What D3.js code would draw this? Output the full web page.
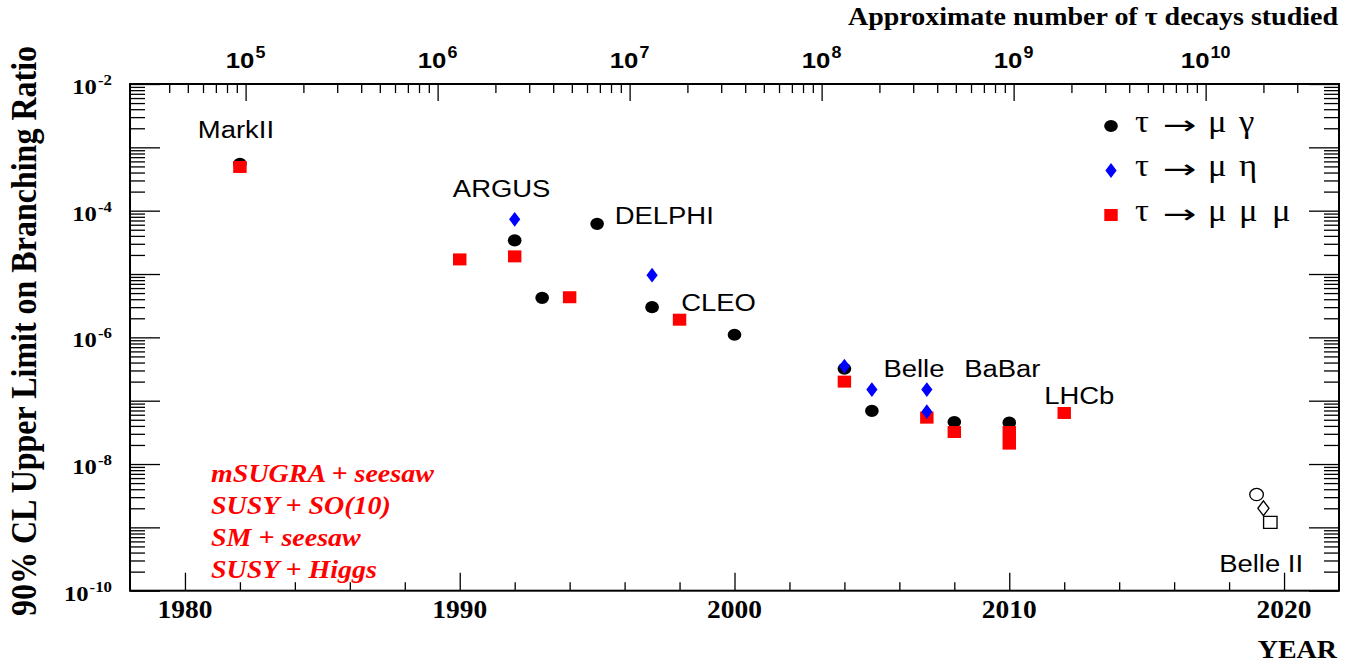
<!DOCTYPE html>
<html>
<head>
<meta charset="utf-8">
<script src="https://cdn.jsdelivr.net/npm/d3@7"></script>
<style>
  body { margin: 0; background: #fff; }
  svg { display: block; }
</style>
</head>
<body>
<div id="chart"></div>
<script>
// ---- data ----
const gammaYears  = [1982, 1992, 1993, 1995, 1997, 2000, 2004, 2005, 2008, 2010];
const gammaLimits = [5.5e-4, 3.4e-5, 4.2e-6, 6.2e-5, 3.0e-6, 1.1e-6, 3.2e-7, 6.9e-8, 4.6e-8, 4.5e-8];

const etaYears  = [1992, 1997, 2004, 2005, 2007, 2007];
const etaLimits = [7.3e-5, 9.6e-6, 3.5e-7, 1.5e-7, 1.5e-7, 6.7e-8];

const muYears  = [1982, 1990, 1992, 1994, 1998, 2004, 2007, 2008, 2010, 2010, 2012];
const muLimits = [4.9e-4, 1.7e-5, 1.9e-5, 4.3e-6, 1.9e-6, 2.0e-7, 5.4e-8, 3.2e-8, 3.2e-8, 2.1e-8, 6.4e-8];

// Belle II projections (open markers)
const belle2Years  = [2019, 2019.25, 2019.5];
const belle2Limits = [3.3e-9, 2.0e-9, 1.2e-9];
const belle2Shapes = ["circle", "diamond", "square"];

const experiments      = ["MarkII", "ARGUS", "DELPHI", "CLEO", "Belle", "BaBar", "LHCb", "Belle II"];
const experimentYears  = [1980.47, 1989.75, 1995.64, 1998.06, 2005.42, 2008.36, 2011.27, 2017.64];
const experimentLimits = [1.4e-3, 1.66e-4, 6.1e-5, 2.63e-6, 2.34e-7, 2.34e-7, 8.75e-8, 2.0e-10];

const models = ["mSUGRA + seesaw", "SUSY + SO(10)", "SM + seesaw", "SUSY + Higgs"];

const legendShapes = ["circle", "diamond", "square"];
const legendLabels = [["τ", "→", "μ", "γ"], ["τ", "→", "μ", "η"], ["τ", "→", "μ", "μ", "μ"]];

const yearTicks    = [1980, 1990, 2000, 2010, 2020];
const yLabelExps   = [-2, -4, -6, -8, -10];
const decayExps    = [5, 6, 7, 8, 9, 10];

// ---- layout ----
const W = 1345, H = 670;
const frame = { left: 130, right: 1339, top: 84, bottom: 590.7 };
const SX = 1.12;   // the picture is slightly stretched horizontally
const serif = "'Liberation Serif', 'Times New Roman', serif";
const sans = "'Liberation Sans', Arial, sans-serif";
const RED = "#ff0000", BLUE = "#0000ff";

const svg = d3.select("#chart")
  .append("svg")
  .attr("width", W)
  .attr("height", H);

const x = d3.scaleLinear().domain([1978, 2022]).range([frame.left, frame.right]);
const y = d3.scaleLog().domain([1e-10, 1e-2]).range([frame.bottom, frame.top]);
const xTop = d3.scaleLog().domain([2.5e4, 4.95e10]).range([frame.left, frame.right]);

const isDecade = v => Math.abs(Math.log10(v) - Math.round(Math.log10(v))) < 1e-6;

function drawTicks(axis, transform) {
  const g = svg.append("g").attr("transform", transform).call(axis);
  g.select(".domain").remove();
  g.selectAll(".tick line").attr("stroke", "#000").attr("stroke-width", 1.3);
  g.selectAll(".tick text").remove();
  return g;
}

// y ticks left + right
const yAll = y.ticks();
const yMajor = yAll.filter(isDecade);
const yMinor = yAll.filter(v => !isDecade(v));
drawTicks(d3.axisLeft(y).tickValues(yMajor).tickSize(-30), `translate(${frame.left},0)`);
drawTicks(d3.axisLeft(y).tickValues(yMinor).tickSize(-15), `translate(${frame.left},0)`);
drawTicks(d3.axisRight(y).tickValues(yMajor).tickSize(-30), `translate(${frame.right},0)`);
drawTicks(d3.axisRight(y).tickValues(yMinor).tickSize(-15), `translate(${frame.right},0)`);

// year ticks bottom
const yearMinor = d3.range(1982, 2022, 2).filter(v => v % 10 !== 0);
drawTicks(d3.axisBottom(x).tickValues(yearTicks).tickSize(-18), `translate(0,${frame.bottom})`);
drawTicks(d3.axisBottom(x).tickValues(yearMinor).tickSize(-8.5), `translate(0,${frame.bottom})`);

// number of tau decays, top
const topAll = xTop.ticks().filter(v => v >= 3.99e4 && v <= 3.01e10);
drawTicks(d3.axisTop(xTop).tickValues(topAll.filter(isDecade)).tickSize(-17), `translate(0,${frame.top})`);
drawTicks(d3.axisTop(xTop).tickValues(topAll.filter(v => !isDecade(v))).tickSize(-9), `translate(0,${frame.top})`);

// frame
svg.append("rect")
  .attr("x", frame.left).attr("y", frame.top)
  .attr("width", frame.right - frame.left)
  .attr("height", frame.bottom - frame.top)
  .attr("fill", "none").attr("stroke", "#000").attr("stroke-width", 2);

// text helper, text stretched like the picture
function stext(px, py, size, family, anchor, sx) {
  return svg.append("text")
    .attr("transform", `translate(${px},${py}) scale(${sx || SX},1)`)
    .attr("font-family", family)
    .attr("font-size", size)
    .attr("text-anchor", anchor || "start");
}

// tick labels
yearTicks.forEach(yr => {
  stext(x(yr), frame.bottom + 27.6, 24.5, serif, "middle")
    .attr("font-weight", "bold").text(yr);
});

yLabelExps.forEach(e => {
  const t = stext(112, y(Math.pow(10, e)) + 10, 22, serif, "end").attr("font-weight", "bold");
  t.append("tspan").text("10");
  t.append("tspan").attr("dy", -9).attr("dx", 1).attr("font-size", 15).text(e);
});

decayExps.forEach(e => {
  const t = stext(xTop(Math.pow(10, e)), 68.3, 23, sans, "middle").attr("font-weight", "bold");
  t.append("tspan").text("10");
  t.append("tspan").attr("dy", -10).attr("dx", 1).attr("font-size", 16).text(e);
});

// axis titles
stext(1338, 25, 25, serif, "end").attr("font-weight", "bold")
  .text("Approximate number of τ decays studied");
stext(1337, 658, 25, serif, "end").attr("font-weight", "bold").text("YEAR");
svg.append("text")
  .attr("transform", `translate(36,331) scale(${SX},1) rotate(-90)`)
  .attr("font-family", serif).attr("font-size", 32).attr("font-weight", "bold")
  .attr("text-anchor", "middle")
  .text("90% CL Upper Limit on Branching Ratio");

// markers
const shapePath = {
  circle: "M-6.1,0A6.1,6.1 0 1,0 6.1,0A6.1,6.1 0 1,0 -6.1,0Z",
  square: "M-6,-6H6V6H-6Z",
  diamond: "M0,-7.4L5,0L0,7.4L-5,0Z"
};

function drawSeries(years, limits, shape, fill) {
  svg.append("g")
    .selectAll("path")
    .data(years.map((yr, i) => ({ yr, v: limits[i] })))
    .join("path")
    .attr("d", shapePath[shape])
    .attr("transform", d => `translate(${x(d.yr)},${y(d.v)}) scale(${SX},1)`)
    .attr("fill", fill);
}

drawSeries(gammaYears, gammaLimits, "circle", "#000");
drawSeries(muYears, muLimits, "square", RED);
drawSeries(etaYears, etaLimits, "diamond", BLUE);

// Belle II open markers
svg.append("g")
  .selectAll("path")
  .data(belle2Years.map((yr, i) => ({ yr, v: belle2Limits[i], s: belle2Shapes[i] })))
  .join("path")
  .attr("d", d => shapePath[d.s])
  .attr("transform", d => `translate(${x(d.yr)},${y(d.v)}) scale(${SX},1)`)
  .attr("fill", "none").attr("stroke", "#000").attr("stroke-width", 1.2);

// experiment names
experiments.forEach((name, i) => {
  stext(x(experimentYears[i]), y(experimentLimits[i]), 24.5, sans, "start")
    .attr("fill", "#000").text(name);
});

// theory models
models.forEach((m, i) => {
  stext(x(1980.95), y(5.25e-9) + i * 32.2, 25, serif, "start")
    .attr("font-weight", "bold").attr("font-style", "italic")
    .attr("fill", RED).text(m);
});

// legend
const legendFill = ["#000", BLUE, RED];
const tokenOffsets = [0, 28, 73, 104, 137];
legendShapes.forEach((s, i) => {
  const ly = 126 + i * 44.5;
  svg.append("path")
    .attr("d", shapePath[s])
    .attr("transform", `translate(1111,${ly}) scale(${SX},1)`)
    .attr("fill", legendFill[i]);
  legendLabels[i].forEach((tok, j) => {
    if (tok === "→") {
      stext(1135 + tokenOffsets[j], ly + 7.5, 26, "'DejaVu Sans', sans-serif", "start", 1.55).text(tok);
    } else {
      stext(1135 + tokenOffsets[j], ly + 5.5, 31, serif, "start").text(tok);
    }
  });
});
</script>
</body>
</html>
